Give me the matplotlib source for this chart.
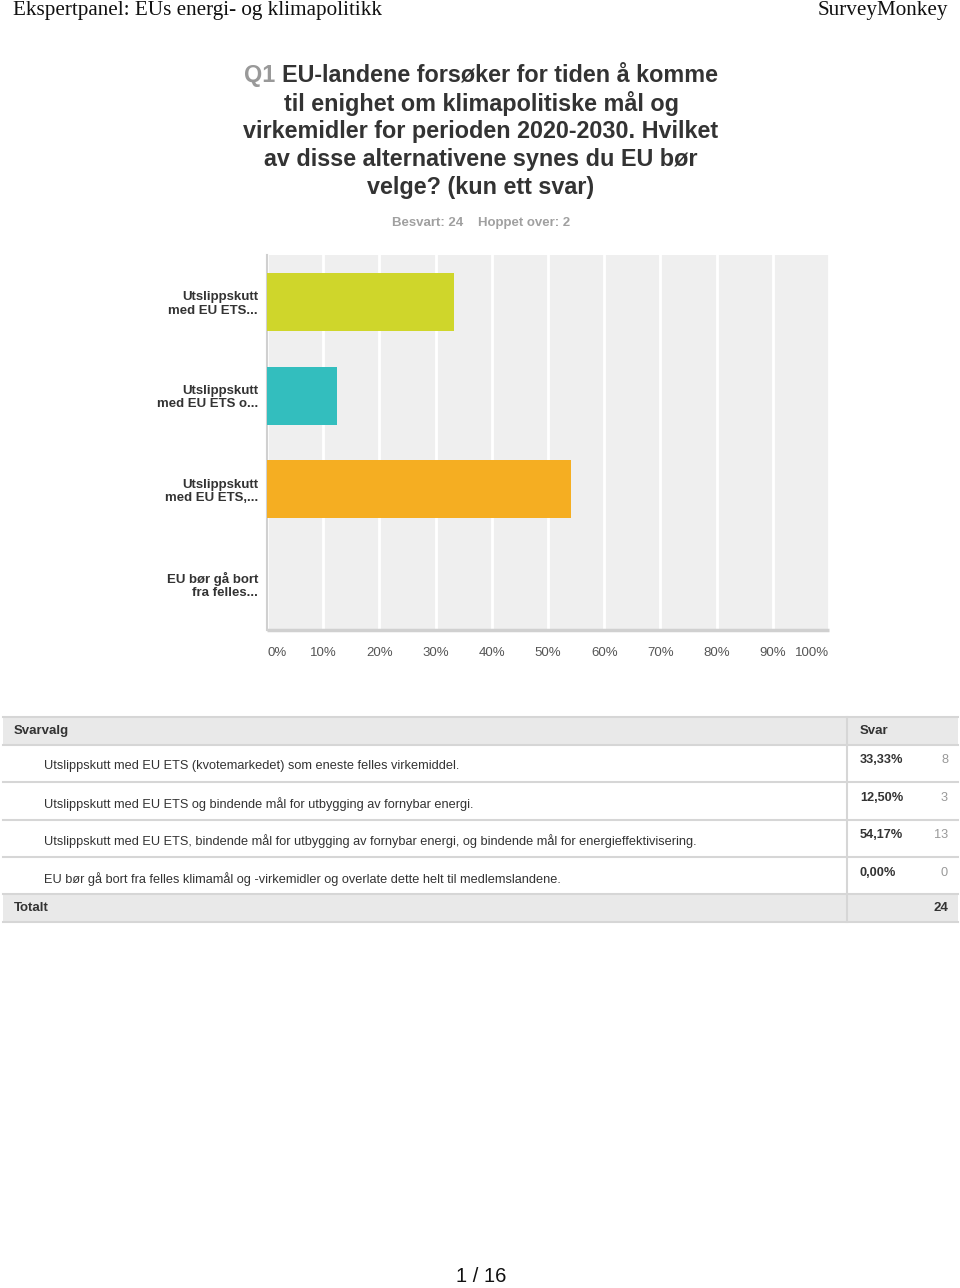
import matplotlib
matplotlib.use("Agg")
import matplotlib.pyplot as plt
from matplotlib.patches import Rectangle

# ---- data ----
header_left = "Ekspertpanel: EUs energi- og klimapolitikk"
header_right = "SurveyMonkey"
q_number = "Q1"
title_lines = ["EU-landene forsøker for tiden å komme",
               "til enighet om klimapolitiske mål og",
               "virkemidler for perioden 2020-2030. Hvilket",
               "av disse alternativene synes du EU bør",
               "velge? (kun ett svar)"]
answered_text = "Besvart: 24"
skipped_text = "Hoppet over: 2"
short_labels = ["Utslippskutt\nmed EU ETS...",
                "Utslippskutt\nmed EU ETS o...",
                "Utslippskutt\nmed EU ETS,...",
                "EU bør gå bort\nfra felles..."]
full_labels = ["Utslippskutt med EU ETS (kvotemarkedet) som eneste felles virkemiddel.",
               "Utslippskutt med EU ETS og bindende mål for utbygging av fornybar energi.",
               "Utslippskutt med EU ETS, bindende mål for utbygging av fornybar energi, og bindende mål for energieffektivisering.",
               "EU bør gå bort fra felles klimamål og -virkemidler og overlate dette helt til medlemslandene."]
percent_values = [33.33, 12.50, 54.17, 0.00]
percent_labels = ["33,33%", "12,50%", "54,17%", "0,00%"]
counts = [8, 3, 13, 0]
total = 24
bar_colors = ["#cfd62b", "#33bebe", "#f5ae22", "#8e8e8e"]
x_ticks = [0, 10, 20, 30, 40, 50, 60, 70, 80, 90, 100]
x_tick_labels = ["0%", "10%", "20%", "30%", "40%", "50%", "60%", "70%", "80%", "90%", "100%"]
page_text = "1 / 16"

W, H = 960, 1288
fig = plt.figure(figsize=(W / 100, H / 100), dpi=100)
fig.patch.set_facecolor("white")

SANS = ["Liberation Sans", "DejaVu Sans"]
SERIF = ["Liberation Serif", "DejaVu Serif"]

# overlay axes in pixel coordinates for page furniture
bg = fig.add_axes([0, 0, 1, 1])
bg.set_xlim(0, W)
bg.set_ylim(H, 0)
bg.axis("off")

bg.text(13, 10, header_left, family=SERIF, fontsize=15.2, color="#111111", va="center", ha="left")
bg.text(948, 10, header_right, family=SERIF, fontsize=15.2, color="#111111", va="center", ha="right")

# title
title_fs = 16.85
line_y = [75, 103, 131, 159, 187]
cx = 481
fig.canvas.draw()
renderer = fig.canvas.get_renderer()
first_full = q_number + " " + title_lines[0]
tmp = bg.text(cx, line_y[0], first_full, family=SANS, fontsize=title_fs, weight="bold",
              ha="center", va="center")
bb = tmp.get_window_extent(renderer)
tmp.remove()
qt = bg.text(bb.x0, line_y[0], q_number + " ", family=SANS, fontsize=title_fs,
             weight="bold", color="#999999", ha="left", va="center")
qb = qt.get_window_extent(renderer)
bg.text(qb.x1, line_y[0], title_lines[0], family=SANS, fontsize=title_fs, weight="bold",
        color="#333333", ha="left", va="center")
for y, line in zip(line_y[1:], title_lines[1:]):
    bg.text(cx, y, line, family=SANS, fontsize=title_fs, weight="bold", color="#333333",
            ha="center", va="center")

bg.text(463, 223, answered_text, family=SANS, fontsize=9.5, weight="bold", color="#a0a0a0",
        ha="right", va="center")
bg.text(478, 223, skipped_text, family=SANS, fontsize=9.5, weight="bold", color="#a0a0a0",
        ha="left", va="center")

# ---- bar chart ----
left, right, top, bottom = 267, 829, 255, 630
ax = fig.add_axes([left / W, 1 - bottom / H, (right - left) / W, (bottom - top) / H])
ax.set_facecolor("#efefef")
ypos = list(range(len(percent_values)))
ax.barh(ypos, percent_values, height=0.62, color=bar_colors, zorder=3)
ax.set_xlim(0, 100)
ax.set_ylim(len(percent_values) - 0.5, -0.5)
ax.set_xticks(x_ticks)
ax.set_xticklabels(x_tick_labels, family=SANS, fontsize=9.5, color="#555555")
lbls = ax.get_xticklabels()
lbls[0].set_ha("left")
lbls[-1].set_ha("right")
ax.set_yticks(ypos)
ax.set_yticklabels(short_labels, family=SANS, fontsize=9.5, weight="bold", color="#333333",
                   linespacing=1.15)
ax.tick_params(axis="x", length=0, pad=12.5)
ax.tick_params(axis="y", length=0, pad=6.5)
ax.grid(axis="x", color="white", linewidth=2, zorder=1)
for s in ["top", "right"]:
    ax.spines[s].set_visible(False)
ax.spines["left"].set_color("#d0d0d0")
ax.spines["left"].set_linewidth(1.5)
ax.spines["bottom"].set_color("#d0d0d0")
ax.spines["bottom"].set_linewidth(2.5)
ax.spines["bottom"].set_capstyle("butt")

# ---- table ----
tx0, tx1, sep = 3, 958, 847
line_c = "#d6d6d6"
hdr_bg = "#e9e9e9"
bg.add_patch(Rectangle((tx0, 717), tx1 - tx0, 28, facecolor=hdr_bg, edgecolor="none"))
bg.add_patch(Rectangle((tx0, 894), tx1 - tx0, 28, facecolor=hdr_bg, edgecolor="none"))
row_edges = [717, 745, 782, 820, 857, 894, 922]
for y in row_edges:
    bg.plot([tx0, tx1], [y, y], color=line_c, linewidth=1.5)
bg.plot([sep, sep], [717, 922], color=line_c, linewidth=1.5)

bg.text(14, 731, "Svarvalg", family=SANS, fontsize=9.5, weight="bold", color="#333333",
        va="center", ha="left")
bg.text(860, 731, "Svar", family=SANS, fontsize=9.5, weight="bold", color="#333333",
        va="center", ha="left")
row_y = [766, 804, 841, 879]
for y, lab, pl, c in zip(row_y, full_labels, percent_labels, counts):
    bg.text(44, y, lab, family=SANS, fontsize=9.22, color="#333333", va="center", ha="left")
    bg.text(860, y - 6.5, pl, family=SANS, fontsize=9.2, weight="bold", color="#333333",
            va="center", ha="left")
    bg.text(948, y - 6.5, str(c), family=SANS, fontsize=9.2, color="#999999", va="center", ha="right")
bg.text(14, 908, "Totalt", family=SANS, fontsize=9.5, weight="bold", color="#333333",
        va="center", ha="left")
bg.text(948, 908, str(total), family=SANS, fontsize=9.5, weight="bold", color="#333333",
        va="center", ha="right")

bg.text(481, 1277, page_text, family=SANS, fontsize=14.5, color="#111111", va="center", ha="center")

fig.savefig("out.png", dpi=100, facecolor="white")
